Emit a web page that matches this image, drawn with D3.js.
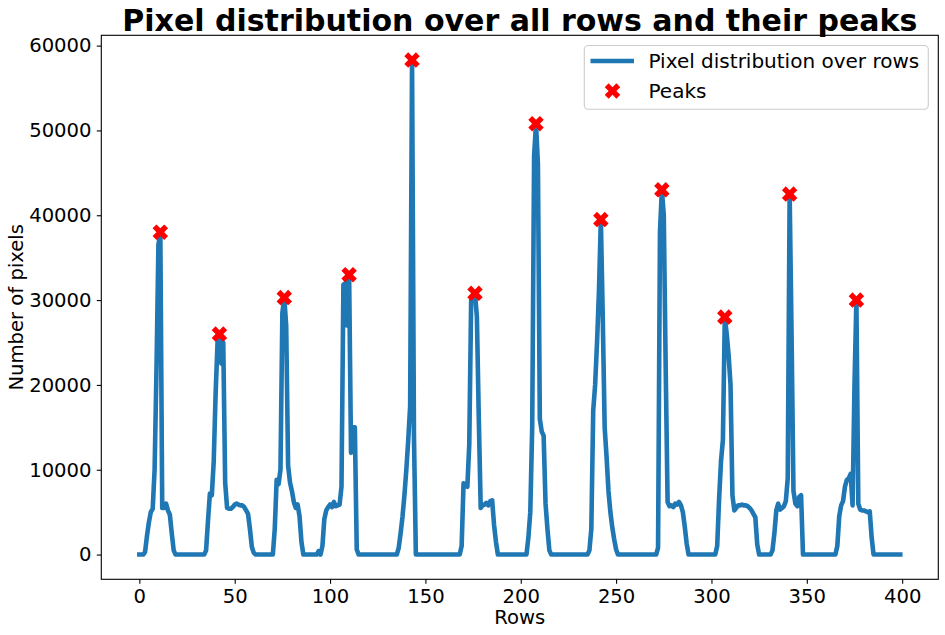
<!DOCTYPE html>
<html>
  <head>
    <meta charset="utf-8">
    <title>Pixel distribution over all rows and their peaks</title>
    <script src="https://d3js.org/d3.v7.min.js"></script>
    <style>
      body { margin: 0; background: #fff; }
      text { font-family: "DejaVu Sans", sans-serif; fill: #000; }
    </style>
  </head>
  <body>
    <div id="chart"></div>

    <script>

        // number of pixels in every row, the row number is the index
        let pixelCounts = [
            0, 0, 0, 300, 2200, 3800, 5000, 5400, 10000, 22000,
            36500, 38000, 5500, 5500, 6000, 5200, 4700, 2500, 500, 0,
            0, 0, 0, 0, 0, 0, 0, 0, 0, 0,
            0, 0, 0, 0, 0, 500, 4000, 7200, 7000, 11000,
            19000, 25000, 26000, 22500, 25000, 8500, 5500, 5400, 5400, 5600,
            5900, 6000, 5900, 5800, 5800, 5600, 5200, 4800, 3000, 900,
            200, 0, 0, 0, 0, 0, 0, 0, 0, 0,
            0, 3000, 8800, 8300, 10000, 28500, 30300, 27000, 10500, 8500,
            7500, 6200, 5500, 5900, 4500, 1500, 0, 0, 0, 0,
            0, 0, 0, 0, 400, 0, 1000, 4200, 5200, 5600,
            5900, 5600, 6200, 5700, 5800, 5900, 8000, 31800, 32000, 27000,
            33000, 12000, 15000, 15000, 600, 0, 0, 0, 0, 0,
            0, 0, 0, 0, 0, 0, 0, 0, 0, 0,
            0, 0, 0, 0, 0, 0, 800, 2500, 4500, 7000,
            10000, 13500, 17500, 58300, 14000, 0, 0, 0, 0, 0,
            0, 0, 0, 0, 0, 0, 0, 0, 0, 0,
            0, 0, 0, 0, 0, 0, 0, 0, 0, 1000,
            8400, 8200, 8000, 13000, 30000, 30500, 30800, 28000, 16000, 5500,
            5800, 5900, 6100, 5800, 6300, 6400, 3500, 1500, 0, 0,
            0, 0, 0, 0, 0, 0, 0, 0, 0, 0,
            0, 0, 0, 0, 2000, 5000, 15000, 47000, 50800, 46000,
            16000, 14500, 14000, 6000, 3000, 500, 0, 0, 0, 0,
            0, 0, 0, 0, 0, 0, 0, 0, 0, 0,
            0, 0, 0, 0, 0, 0, 500, 3000, 17000, 20000,
            25000, 31000, 39500, 28000, 15000, 11500, 7500, 5000, 3200, 1800,
            600, 0, 0, 0, 0, 0, 0, 0, 0, 0,
            0, 0, 0, 0, 0, 0, 0, 0, 0, 0,
            0, 0, 800, 38000, 43000, 40000, 22000, 6200, 5700, 5800,
            5600, 6000, 5900, 6200, 5800, 5000, 3300, 1300, 0, 0,
            0, 0, 0, 0, 0, 0, 0, 0, 0, 0,
            0, 0, 0, 1000, 6500, 11000, 13500, 28000, 26000, 23500,
            20000, 7000, 5200, 5500, 5800, 5800, 5900, 5800, 5800, 5700,
            5500, 5200, 4800, 4400, 1200, 0, 0, 0, 0, 0,
            0, 0, 500, 2500, 5200, 6000, 5300, 5500, 5700, 6300,
            9000, 42500, 26000, 7500, 6000, 5700, 6800, 7000, 0, 0,
            0, 0, 0, 0, 0, 0, 0, 0, 0, 0,
            0, 0, 0, 0, 0, 0, 1000, 4500, 5800, 6300,
            8000, 8800, 9000, 9500, 5800, 20000, 30000, 6000, 5300, 5200,
            5200, 5100, 5000, 5100, 2000, 0, 0, 0, 0, 0,
            0, 0, 0, 0, 0, 0, 0, 0, 0, 0
        ]

        // rows found as peaks
        let peakRows = [11, 42, 76, 110, 143, 176, 208, 242, 274, 307, 341, 376]

        let xTicks = [0, 50, 100, 150, 200, 250, 300, 350, 400]
        let yTicks = [0, 10000, 20000, 30000, 40000, 50000, 60000]

        let width   = 945,
            height  = 635,
            plotL   = 101.3,
            plotR   = 938.3,
            plotT   = 35.3,
            plotB   = 579.3,
            blue    = '#1f77b4',
            fontSize = 19.6

        let svg = d3.select('#chart').append('svg')
            .attr('width', width)
            .attr('height', height)
            .style('background', '#fff')

        // matplotlib style 5% margins around the data
        let lastRow  = pixelCounts.length - 1,
            maxCount = d3.max(pixelCounts),
            x = d3.scaleLinear()
                .domain([-0.05 * lastRow, lastRow * 1.05])
                .range([plotL, plotR]),
            y = d3.scaleLinear()
                .domain([-0.05 * maxCount, maxCount * 1.05])
                .range([plotB, plotT])

        // axes
        let xAxis = svg.append('g')
            .attr('transform', `translate(0,${plotB})`)
            .call(d3.axisBottom(x).tickValues(xTicks).tickSize(4.5).tickPadding(4.8).tickSizeOuter(0))
        let yAxis = svg.append('g')
            .attr('transform', `translate(${plotL},0)`)
            .call(d3.axisLeft(y).tickValues(yTicks).tickFormat(d3.format('d')).tickSize(4.5).tickPadding(5.3).tickSizeOuter(0))

        ;[xAxis, yAxis].forEach(a => {
            a.select('.domain').remove()
            a.selectAll('.tick line').attr('stroke', '#000').attr('stroke-width', 1.1)
            a.selectAll('.tick text')
                .style('font-family', '"DejaVu Sans", sans-serif')
                .style('font-size', fontSize + 'px')
                .attr('fill', '#000')
        })

        // the line (projecting caps, like matplotlib)
        let line = d3.line()
            .x((d, i) => x(i))
            .y(d => y(d))

        svg.append('path')
            .datum(pixelCounts)
            .attr('fill', 'none')
            .attr('stroke', blue)
            .attr('stroke-width', 4.6)
            .attr('stroke-linejoin', 'round')
            .attr('stroke-linecap', 'square')
            .attr('d', line)

        // filled X markers for the peaks
        let cross = d3.symbol().type(d3.symbolCross).size(150)

        svg.selectAll('.peak')
            .data(peakRows)
            .enter().append('path')
            .attr('class', 'peak')
            .attr('d', cross)
            .attr('fill', 'red')
            .attr('transform', d => `translate(${x(d)},${y(pixelCounts[d])}) rotate(45)`)

        // frame
        svg.append('rect')
            .attr('x', plotL)
            .attr('y', plotT)
            .attr('width', plotR - plotL)
            .attr('height', plotB - plotT)
            .attr('fill', 'none')
            .attr('stroke', '#000')
            .attr('stroke-width', 1.1)

        // title and labels
        svg.append('text')
            .attr('x', (plotL + plotR) / 2)
            .attr('y', 30.5)
            .attr('text-anchor', 'middle')
            .style('font-size', '30px')
            .style('font-weight', 'bold')
            .text('Pixel distribution over all rows and their peaks')

        svg.append('text')
            .attr('x', (plotL + plotR) / 2)
            .attr('y', 624.3)
            .attr('text-anchor', 'middle')
            .style('font-size', fontSize + 'px')
            .text('Rows')

        svg.append('text')
            .attr('transform', `translate(23,${(plotT + plotB) / 2}) rotate(-90)`)
            .attr('text-anchor', 'middle')
            .style('font-size', fontSize + 'px')
            .text('Number of pixels')

        // legend
        let legend = svg.append('g')

        legend.append('rect')
            .attr('x', 584.3)
            .attr('y', 45.5)
            .attr('width', 344)
            .attr('height', 63.8)
            .attr('rx', 4)
            .attr('fill', '#fff')
            .attr('fill-opacity', 0.8)
            .attr('stroke', '#ccc')
            .attr('stroke-width', 1.1)

        legend.append('line')
            .attr('x1', 592.8)
            .attr('x2', 631.7)
            .attr('y1', 61)
            .attr('y2', 61)
            .attr('stroke', blue)
            .attr('stroke-width', 4.6)
            .attr('stroke-linecap', 'square')

        legend.append('path')
            .attr('d', cross)
            .attr('fill', 'red')
            .attr('transform', 'translate(612.5,91) rotate(45)')

        legend.selectAll('.label')
            .data(['Pixel distribution over rows', 'Peaks'])
            .enter().append('text')
            .attr('class', 'label')
            .attr('x', 648.5)
            .attr('y', (d, i) => 61 + i * 30)
            .attr('dy', '0.35em')
            .style('font-size', '20px')
            .text(d => d)

    </script>
  </body>
</html>
